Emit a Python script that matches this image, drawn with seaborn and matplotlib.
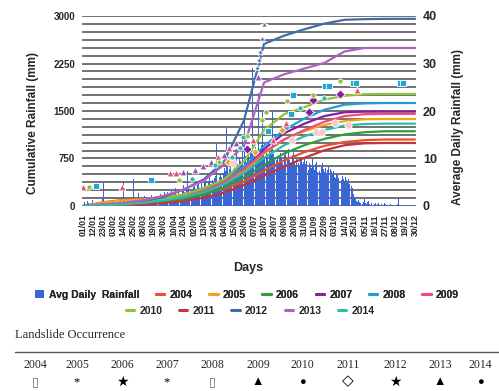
import numpy as np
import pandas as pd
import matplotlib
matplotlib.use("Agg")
import matplotlib.pyplot as plt
import seaborn as sns
from matplotlib.lines import Line2D
from matplotlib.patches import Patch
from matplotlib.ticker import MultipleLocator

# ────────────────────────────────────────────────────────────────────
#  Data
# ────────────────────────────────────────────────────────────────────

# average daily rainfall (mm), one value per day of year, month by month
rain_jan = [0.5, 0.3, 0.8, 0.2, 0.4, 1.0, 0.6, 0.3, 0.2, 0.5, 1.2, 0.7, 0.4, 0.3, 0.6, 0.9,
            0.5, 0.3, 0.2, 0.4, 0.8, 1.5, 4.8, 1.0, 0.6, 0.4, 0.3, 0.5, 0.7, 0.4, 0.3]
rain_feb = [0.6, 1.2, 0.8, 0.5, 3.9, 1.4, 0.6, 0.4, 0.3, 0.8, 1.1, 0.7, 0.5, 5.3, 1.6, 0.9,
            0.6, 0.4, 0.5, 1.0, 1.3, 0.8, 0.6, 0.9, 5.6, 1.8, 0.7, 0.5]
rain_mar = [0.8, 1.2, 2.8, 1.5, 0.9, 0.7, 1.1, 1.6, 2.2, 1.3, 0.9, 1.4, 2.0, 1.1, 0.8, 1.5,
            2.4, 1.7, 1.0, 1.3, 2.1, 1.6, 6.3, 2.5, 1.2, 1.8, 2.6, 1.4, 1.1, 2.0, 2.9]
rain_apr = [2.2, 1.6, 3.0, 7.4, 2.8, 1.9, 2.5, 3.4, 2.1, 1.7, 2.9, 3.8, 2.4, 2.0, 3.1, 4.2,
            2.7, 1.8, 2.6, 3.5, 4.5, 2.9, 2.2, 3.3, 7.4, 3.9, 2.8, 3.6, 4.8, 3.1]
rain_may = [3.4, 4.1, 5.0, 3.6, 2.9, 4.4, 5.3, 3.8, 4.6, 8.6, 5.1, 4.0, 3.5, 4.8, 5.7, 4.2,
            3.9, 5.2, 6.0, 4.5, 3.8, 9.2, 5.5, 4.7, 5.9, 6.3, 13.4, 5.0, 4.4, 6.1, 6.8]
rain_jun = [6.2, 7.1, 5.8, 6.9, 8.0, 7.4, 16.6, 8.3, 6.6, 7.8, 9.1, 7.0, 8.5, 9.4, 7.7, 8.8,
            8.1, 11.9, 9.0, 8.4, 10.2, 9.5, 8.7, 14.5, 9.8, 29.0, 18.0, 10.5, 9.3, 11.0]
rain_jul = [10.8, 9.6, 11.4, 12.0, 29.0, 10.3, 9.9, 11.7, 12.4, 10.6, 9.8, 23.8, 11.2, 10.1,
            12.8, 20.0, 11.5, 10.4, 9.7, 11.9, 12.6, 10.9, 9.5, 11.3, 10.7, 12.2, 20.0, 11.0,
            10.2, 9.8, 10.5]
rain_aug = [9.6, 10.4, 8.8, 9.9, 11.2, 10.0, 9.1, 8.5, 10.7, 11.5, 9.4, 8.9, 10.1, 12.0, 9.7,
            8.6, 9.2, 10.8, 11.3, 9.5, 8.7, 9.9, 10.4, 13.5, 9.0, 8.4, 9.6, 10.2, 8.8, 9.3, 10.1]
rain_sep = [8.9, 9.5, 10.3, 8.2, 7.6, 9.1, 8.7, 7.9, 9.8, 8.4, 7.5, 8.8, 9.3, 7.2, 8.0, 8.6,
            7.4, 6.9, 8.3, 9.0, 7.7, 7.1, 8.1, 6.8, 7.5, 8.4, 7.0, 6.6, 7.8, 7.3]
rain_oct = [6.9, 7.4, 6.2, 5.8, 7.0, 6.5, 5.9, 16.0, 6.8, 6.1, 5.5, 6.4, 5.7, 5.2, 6.0, 5.4,
            4.9, 5.6, 4.6, 5.1, 8.0, 4.3, 3.8, 2.5, 1.9, 1.4, 1.1, 0.9, 1.3, 0.8, 0.6]
rain_nov = [0.7, 1.2, 0.5, 0.9, 1.5, 0.6, 0.4, 0.8, 1.1, 0.5, 0.3, 0.6, 0.9, 0.4, 0.2, 0.5,
            0.7, 0.3, 0.4, 0.6, 0.2, 0.3, 0.5, 0.4, 0.2, 0.3, 0.6, 0.4, 0.2, 0.3]
rain_dec = [0.3, 0.2, 0.4, 0.3, 0.2, 0.5, 0.3, 0.2, 0.1, 0.3, 0.4, 1.7, 0.3, 0.2, 0.1, 0.2,
            0.3, 0.2, 0.1, 0.2, 0.3, 0.2, 0.1, 0.2, 0.1, 0.2, 0.3, 0.1, 0.2, 1.2, 0.3]

# cumulative rainfall (mm) per year, sampled at these days of year
cum_days = [1, 23, 45, 67, 89, 111, 133, 155, 177, 199, 221, 243, 265, 287, 309, 331, 353, 364]
cum_2004 = [0, 60, 95, 110, 130, 160, 200, 270, 390, 560, 720, 850, 950, 1010, 1040, 1050, 1050, 1050]
cum_2005 = [0, 55, 90, 105, 135, 180, 240, 350, 550, 830, 1050, 1180, 1280, 1340, 1370, 1374, 1374, 1374]
cum_2006 = [0, 5, 15, 35, 65, 110, 180, 290, 450, 650, 830, 960, 1060, 1130, 1165, 1180, 1180, 1180]
cum_2007 = [0, 10, 25, 50, 90, 150, 240, 380, 600, 900, 1150, 1300, 1420, 1480, 1490, 1490, 1490, 1490]
cum_2008 = [0, 10, 30, 60, 100, 170, 270, 400, 620, 950, 1200, 1380, 1520, 1600, 1620, 1626, 1626, 1626]
cum_2009 = [0, 15, 35, 60, 100, 160, 250, 380, 580, 850, 1050, 1200, 1330, 1420, 1450, 1455, 1455, 1455]
cum_2010 = [0, 15, 35, 60, 110, 180, 280, 420, 700, 1200, 1450, 1560, 1680, 1740, 1765, 1770, 1770, 1770]
cum_2011 = [0, 5, 10, 25, 45, 80, 130, 210, 330, 480, 620, 760, 880, 960, 990, 995, 995, 995]
cum_2012 = [0, 20, 40, 80, 140, 260, 420, 700, 1350, 2560, 2690, 2790, 2880, 2940, 2950, 2955, 2955, 2955]
cum_2013 = [0, 25, 50, 90, 160, 260, 400, 650, 950, 1950, 2080, 2170, 2260, 2440, 2495, 2495, 2495, 2495]
cum_2014 = [0, 10, 25, 50, 85, 140, 220, 340, 520, 760, 960, 1100, 1200, 1270, 1295, 1300, 1300, 1300]

years = ["2004", "2005", "2006", "2007", "2008", "2009",
         "2010", "2011", "2012", "2013", "2014"]
line_colors = ["#E8502A", "#F7A21B", "#2E9E3E", "#8C1B9E", "#1E9FD8", "#E8507A",
               "#8CC43A", "#C8323A", "#3F6EA6", "#B062C4", "#2BBFA4"]

# landslide events plotted on the cumulative curves (day of year, mm)
slide_days_2005 = [160, 189, 219]
slide_mm_2005 = [700, 853, 1200]
slide_days_2007 = [180, 248, 252, 282]
slide_mm_2007 = [900, 1484, 1674, 1768]
slide_days_2008 = [15, 75, 203, 228, 231, 266, 270, 296, 299, 348, 351]
slide_mm_2008 = [316, 410, 1184, 1453, 1752, 1895, 1895, 1942, 1942, 1942, 1942]
slide_days_2009 = [1, 44, 96, 103, 149, 161, 187, 209, 223, 301]
slide_mm_2009 = [300, 300, 520, 520, 774, 916, 1042, 1042, 1310, 1830]
slide_days_2010 = [8, 106, 150, 180, 197, 201, 224, 252, 282]
slide_mm_2010 = [300, 410, 700, 1100, 1358, 1484, 1658, 1752, 1974]
slide_days_2011 = [165, 229, 256, 262, 277, 291]
slide_mm_2011 = [679, 1042, 1168, 1168, 1310, 1279]
slide_days_2012 = [191, 193, 195, 197, 199]
slide_mm_2012 = [2180, 2300, 2430, 2640, 2860]
slide_days_2013 = [110, 123, 132, 141, 155, 168, 192]
slide_mm_2013 = [540, 568, 632, 695, 805, 995, 2037]
slide_days_2014 = [120, 145, 164, 173, 176, 238, 264]
slide_mm_2014 = [430, 640, 774, 916, 1090, 1547, 1705]

tick_labels = ["01/01", "12/01", "23/01", "03/02", "14/02", "25/02", "08/03", "19/03",
               "30/03", "10/04", "21/04", "02/05", "13/05", "24/05", "04/06", "15/06",
               "26/06", "07/07", "18/07", "29/07", "09/08", "20/08", "31/08", "11/09",
               "22/09", "03/10", "14/10", "25/10", "05/11", "16/11", "27/11", "08/12",
               "19/12", "30/12"]

occurrence_symbols = ["\u25af", "*", "\u2605", "*", "\u25af", "\u25b2",
                      "\u25cf", "\u25c7", "\u2605", "\u25b2", "\u25cf"]

# ────────────────────────────────────────────────────────────────────
#  Build frames
# ────────────────────────────────────────────────────────────────────

rain = (rain_jan + rain_feb + rain_mar + rain_apr + rain_may + rain_jun +
        rain_jul + rain_aug + rain_sep + rain_oct + rain_nov + rain_dec)
df_rain = pd.DataFrame({"day": np.arange(1, len(rain) + 1), "rain": rain})

cum_all = [cum_2004, cum_2005, cum_2006, cum_2007, cum_2008, cum_2009,
           cum_2010, cum_2011, cum_2012, cum_2013, cum_2014]
df_cum = pd.concat([pd.DataFrame({"day": cum_days, "mm": c, "year": y})
                    for y, c in zip(years, cum_all)], ignore_index=True)
palette = dict(zip(years, line_colors))

# ────────────────────────────────────────────────────────────────────
#  Plot
# ────────────────────────────────────────────────────────────────────

sns.set_theme(style="white")
plt.rcParams["font.family"] = ["Liberation Sans", "DejaVu Sans"]
plt.rcParams["font.weight"] = "bold"

fig = plt.figure(figsize=(4.99, 3.91), dpi=100)
ax_bar = fig.add_axes([82 / 499, 1 - 206 / 391, 334 / 499, 190 / 391])

# daily rainfall bars (right axis)
sns.barplot(data=df_rain, x="day", y="rain", native_scale=True, errorbar=None,
            color="#3C66D6", linewidth=0, saturation=1, width=0.9, ax=ax_bar)
ax_bar.set_ylim(0, 40)
ax_bar.set_xlim(-0.1, 365.1)
ax_bar.set_axisbelow(True)
ax_bar.yaxis.set_minor_locator(MultipleLocator(40 / 24))
ax_bar.grid(which="both", axis="y", color="#4a4a4a", linewidth=1.1)
ax_bar.grid(axis="x", visible=False)
ax_bar.set_xticks(range(1, 365, 11))
ax_bar.set_xticklabels(tick_labels, rotation=90, fontsize=6.3, fontweight="bold")
ax_bar.tick_params(axis="x", length=0, pad=6)
ax_bar.set_xlabel("")
ax_bar.set_ylabel("")

# cumulative curves (left axis)
ax_line = ax_bar.twinx()
sns.lineplot(data=df_cum, x="day", y="mm", hue="year", palette=palette,
             linewidth=1.6, legend=False, ax=ax_line)

marker_sets = [
    (slide_days_2005, slide_mm_2005, "D", "#F7A21B", 14),
    (slide_days_2007, slide_mm_2007, "D", "#8C1B9E", 22),
    (slide_days_2008, slide_mm_2008, "s", "#1EA8D8", 16),
    (slide_days_2009, slide_mm_2009, "^", "#E8507A", 24),
    (slide_days_2010, slide_mm_2010, "o", "#8CC43A", 14),
    (slide_days_2011, slide_mm_2011, "o", "#F6C9CC", 28),
    (slide_days_2012, slide_mm_2012, "*", "#3F6EA6", 30),
    (slide_days_2013, slide_mm_2013, "^", "#A24DB8", 24),
    (slide_days_2014, slide_mm_2014, "o", "#2BBFA4", 14),
]
for d, m, mk, col, sz in marker_sets:
    sns.scatterplot(x=d, y=m, marker=mk, color=col, s=sz, edgecolor="white",
                    linewidth=0.6, ax=ax_line, zorder=5)

ax_line.set_ylim(0, 3000)
ax_line.set_xlim(-0.1, 365.1)
ax_line.grid(False)
ax_line.set_xlabel("")
ax_line.set_ylabel("")

# twinx moves the host ticks to the left -> swap sides afterwards
ax_line.yaxis.tick_left()
ax_line.set_yticks([0, 750, 1500, 2250, 3000])
ax_line.tick_params(axis="y", length=0, pad=5, labelsize=7)
ax_bar.yaxis.tick_right()
ax_bar.set_yticks([0, 10, 20, 30, 40])
ax_bar.tick_params(axis="y", which="both", length=0, pad=5, labelsize=9,
                   labelleft=False, labelright=True)
for lab in ax_line.get_yticklabels() + ax_bar.get_yticklabels():
    lab.set_fontweight("bold")

for a in (ax_bar, ax_line):
    for s in a.spines.values():
        s.set_visible(False)

# axis titles
fig.text(33 / 499, 1 - 123 / 391, "Cumulative Rainfall (mm)", rotation=90,
         ha="center", va="center", fontsize=8.5, fontweight="bold")
fig.text(458 / 499, 1 - 127 / 391, "Average Daily Rainfall (mm)", rotation=90,
         ha="center", va="center", fontsize=8.5, fontweight="bold")
fig.text(248 / 499, 1 - 268 / 391, "Days", ha="center", va="center",
         fontsize=9, fontweight="bold")

# legend (two centred rows)
leg_font = {"size": 7.5, "weight": "bold"}
h1 = [Patch(facecolor="#3C66D6", edgecolor="none")] + \
     [Line2D([], [], color=c, lw=2.2) for c in line_colors[:6]]
l1 = ["Avg Daily  Rainfall"] + years[:6]
h2 = [Line2D([], [], color=c, lw=2.2) for c in line_colors[6:]]
l2 = years[6:]
leg1 = fig.legend(h1, l1, loc="center", bbox_to_anchor=(247 / 499, 1 - 295 / 391),
                  ncol=7, frameon=False, prop=leg_font, handlelength=0.8,
                  handleheight=0.8, handletextpad=0.5, columnspacing=1.6)
fig.add_artist(leg1)
fig.legend(h2, l2, loc="center", bbox_to_anchor=(250 / 499, 1 - 311 / 391),
           ncol=5, frameon=False, prop=leg_font, handlelength=0.8,
           handletextpad=0.5, columnspacing=1.6)

# landslide occurrence table
serif = ["Liberation Serif", "DejaVu Serif"]
fig.text(15 / 499, 1 - 335 / 391, "Landslide Occurrence", ha="left", va="center",
         fontsize=9, family=serif, fontweight="normal")
fig.add_artist(Line2D([15 / 499, 1.0], [1 - 352 / 391] * 2, color="#555555", lw=1.0))
year_x = [35, 77, 122, 167, 212, 258, 302, 348, 395, 440, 480]
sym_size = {"\u25af": 9, "*": 9, "\u2605": 10, "\u25b2": 9, "\u25cf": 8, "\u25c7": 11}
for x, y, sym in zip(year_x, years, occurrence_symbols):
    fig.text(x / 499, 1 - 365 / 391, y, ha="center", va="center", fontsize=8.5,
             family=serif, fontweight="normal")
    fig.text(x / 499, 1 - 382 / 391, sym, ha="center", va="center",
             fontsize=sym_size[sym], family=["Liberation Serif", "DejaVu Sans"],
             fontweight="normal", color="black" if sym != "\u25af" else "#666666")

fig.savefig("out.png", dpi=100)
